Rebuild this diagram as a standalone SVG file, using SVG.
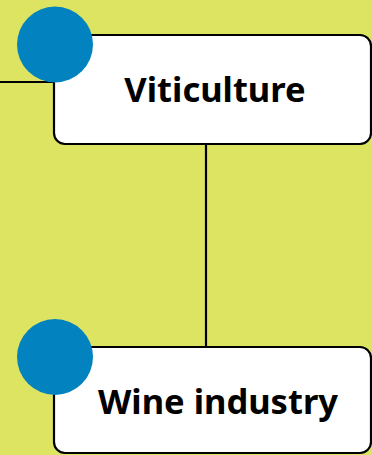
<svg xmlns="http://www.w3.org/2000/svg" width="372" height="455" viewBox="0 0 372 455">
<style>
.box{fill:#fff;stroke:#000;stroke-width:2.2}
.dot{fill:#0282be}
.lbl{font-family:"Noto Sans","DejaVu Sans",sans-serif;font-weight:bold;font-size:34.5px;fill:#000;text-anchor:middle}
.conn{stroke:#000;stroke-width:2.2;fill:none}
</style>
<rect width="372" height="455" fill="#dde462"/>
<g id="connectors">
<line class="conn" x1="0" y1="82" x2="54" y2="82"/>
<line class="conn" x1="206" y1="144" x2="206" y2="347"/>
</g>
<g id="viticulture">
<rect class="box" x="54" y="35" width="317" height="109" rx="11"/>
<circle class="dot" cx="55" cy="44.5" r="38"/>
<text class="lbl" x="215" y="101.5">Viticulture</text>
</g>
<g id="wine-industry">
<rect class="box" x="54" y="347" width="317" height="106" rx="11"/>
<circle class="dot" cx="55" cy="357" r="38"/>
<text class="lbl" x="218" y="414">Wine industry</text>
</g>
</svg>
